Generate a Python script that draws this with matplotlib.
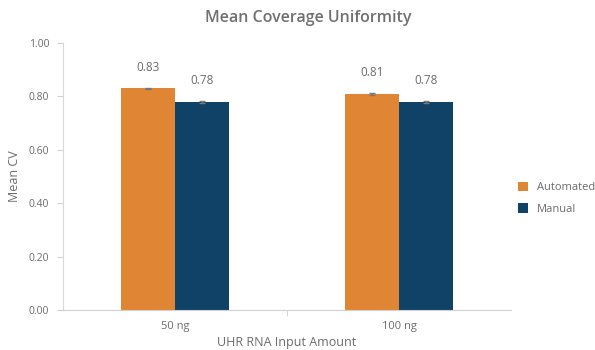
import matplotlib
matplotlib.use("Agg")
import matplotlib.pyplot as plt
import numpy as np

categories = ["50 ng", "100 ng"]
automated = [0.83, 0.81]
manual = [0.78, 0.78]
automated_err = [0.003, 0.003]
manual_err = [0.003, 0.003]
labels_auto = ["0.83", "0.81"]
labels_man = ["0.78", "0.78"]
yticks = [0.0, 0.2, 0.4, 0.6, 0.8, 1.0]

plt.rcParams['font.family'] = ['Open Sans', 'DejaVu Sans']
txt = '#6b6b6b'
fig = plt.figure(figsize=(5.95, 3.5), dpi=100)
ax = fig.add_axes([63/595, 40/350, 448/595, 267/350])

x = np.arange(len(categories))
w = 0.24
orange = '#E08533'
navy = '#0F4266'
ax.bar(x - w/2, automated, w, color=orange, label='Automated', zorder=2)
ax.bar(x + w/2, manual, w, color=navy, label='Manual', zorder=2)
ax.errorbar(x - w/2, automated, yerr=automated_err, fmt='none', ecolor='#777777', elinewidth=1, capsize=2.5, zorder=3)
ax.errorbar(x + w/2, manual, yerr=manual_err, fmt='none', ecolor='#777777', elinewidth=1, capsize=2.5, zorder=3)
for xi, v, l in zip(x - w/2, automated, labels_auto):
    ax.text(xi, v + 0.078, l, ha='center', va='center', fontsize=8.5, color=txt)
for xi, v, l in zip(x + w/2, manual, labels_man):
    ax.text(xi, v + 0.078, l, ha='center', va='center', fontsize=8.5, color=txt)

ax.set_xlim(-0.5, 1.5)
ax.set_ylim(0, 1.0)
ax.set_yticks(yticks)
ax.set_yticklabels([f"{t:.2f}" for t in yticks])
ax.set_xticks(x)
ax.set_xticklabels(categories)
ax.set_xticks([0.5], minor=True)
ax.tick_params(axis='x', which='major', length=0, pad=8, labelsize=8, labelcolor=txt)
ax.tick_params(axis='x', which='minor', length=4, color='#d0d0d0', direction='out')
ax.tick_params(axis='y', length=4, color='#d0d0d0', labelsize=7.5, labelcolor=txt, pad=6)
for s in ['top', 'right']:
    ax.spines[s].set_visible(False)
ax.spines['left'].set_color('#d9d9d9')
ax.spines['bottom'].set_color('#d0d0d0')
ax.set_ylabel('Mean CV', fontsize=9, color=txt)
ax.yaxis.set_label_coords((21 - 63) / 448, 0.5)
ax.set_xlabel('UHR RNA Input Amount', fontsize=9, color=txt, labelpad=3)
fig.text(308/595, 1 - 18/350, 'Mean Coverage Uniformity', ha='center', va='center',
         fontsize=11.5, color='#707070', fontweight='semibold')
leg = fig.legend(loc='upper left', bbox_to_anchor=(508/595, 1 - 172/350), frameon=False,
                 fontsize=8, labelcolor=txt, handlelength=0.9, handleheight=0.9,
                 labelspacing=0.9, handletextpad=0.8)
fig.savefig('out.png', dpi=100)
